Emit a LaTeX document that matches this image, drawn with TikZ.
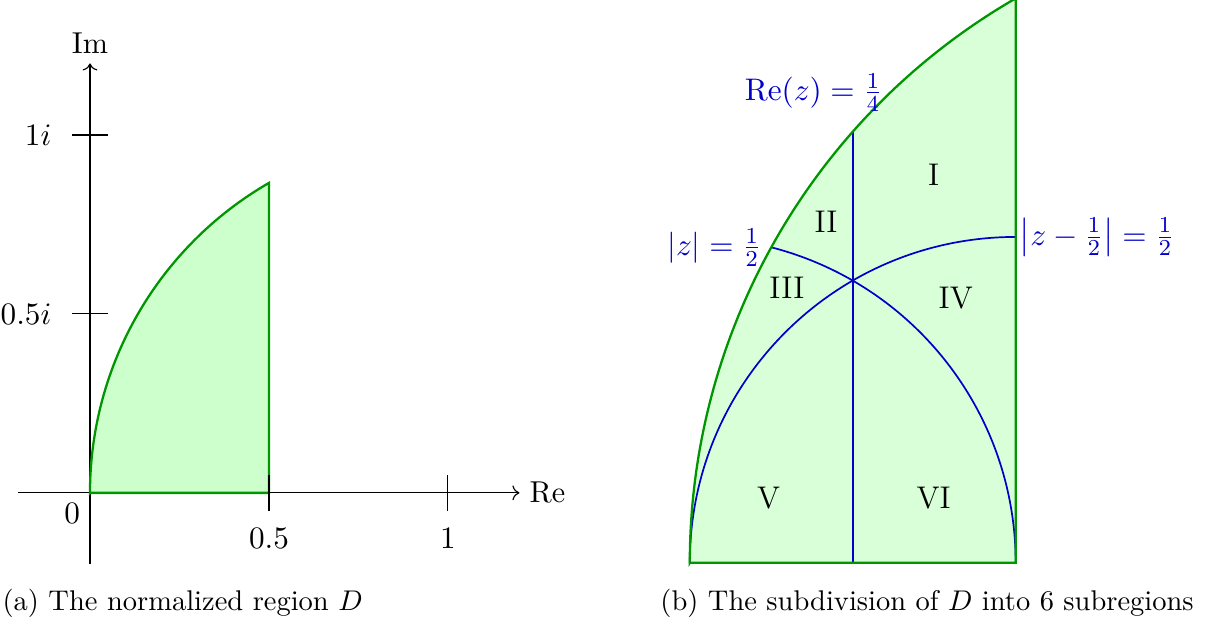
\documentclass[tikz,border=0pt]{standalone}
\usepackage{amsmath,amssymb}
\usepackage{tikz}
\usetikzlibrary{arrows.meta,calc}
\usepackage{xcolor}
\definecolor{regionline}{RGB}{0,150,0}
\definecolor{regionfill}{RGB}{204,255,204}
\definecolor{subfill}{RGB}{217,255,217}
\definecolor{cutblue}{RGB}{0,0,200}

\begin{document}
\begin{tikzpicture}
  \useasboundingbox (0,0) rectangle (15,7.72);
  % (a) the region D
  \begin{scope}[shift={(1.110,1.640)},scale=4.415,font=\fontsize{10.6}{13}\selectfont]
    \draw[->] (-0.2,0) -- (1.2,0) node[right] (re) {Re};
    \draw[->] (0,-0.2) -- (0,1.2) node[above] (im) {Im};
    \filldraw[fill=regionfill,draw=regionline,thick] (0,0) -- (0.5,0) -- (0.5,{sqrt(3)/2})
      arc[start angle=120,end angle=180,radius=1] -- cycle;
    \foreach \x in {0.5,1} {
      \draw (\x,-0.05) -- (\x,0.05);
      \node (re\x) at (\x,-0.126) {$\x$};
    }
    \foreach \y/\t in {0.5/0.5i,1/1i} {
      \draw (-0.05,\y) -- (0.05,\y);
      \node[left] (im\y) at (-0.08,\y) {$\t$};
    }
    \node[below left] (zero) at (0,0) {$0$};
  \end{scope}
  % (b) the six subregions
  \begin{scope}[shift={(8.509,0.777)},scale=8.04,font=\fontsize{11}{13}\selectfont]
    \fill[subfill] (0,0) -- (0.5,0) -- (0.5,{sqrt(3)/2})
      arc[start angle=120,end angle=180,radius=1] -- cycle;
    \draw[cutblue,semithick] (0.25,0) -- (0.25,{sqrt(0.4375)}) coordinate (retop);
    \draw[cutblue,semithick] (0.5,0) arc[start angle=0,end angle={acos(0.25)},radius=0.5] coordinate (zend);
    \draw[cutblue,semithick] (0,0) arc[start angle=180,end angle=90,radius=0.5] coordinate (zhend);
    \draw[regionline,thick] (0,0) -- (0.5,0) -- (0.5,{sqrt(3)/2})
      arc[start angle=120,end angle=180,radius=1] -- cycle;
    \node[cutblue] (relabel) at (0.19,0.722) {$\mathrm{Re}(z)=\frac{1}{4}$};
    \node[cutblue,left] (zlabel) at (zend) {$\lvert z\rvert=\frac{1}{2}$};
    \node[cutblue,right,xshift=-2pt] (zhlabel) at (zhend) {$\left\lvert z-\frac{1}{2}\right\rvert=\frac{1}{2}$};
    \node (one) at (0.374,0.595) {I};
    \node (two) at (0.209,0.523) {II};
    \node (three) at (0.149,0.422) {III};
    \node (four) at (0.408,0.406) {IV};
    \node (five) at (0.121,0.1) {V};
    \node (six) at (0.374,0.1) {VI};
  \end{scope}
  \node[anchor=west,inner sep=0pt] (capa) at (0.025,0.271) {(a) The normalized region $D$};
  \node[anchor=west,inner sep=0pt] (capb) at (8.14,0.271) {(b) The subdivision of $D$ into 6 subregions};
\end{tikzpicture}
\end{document}
